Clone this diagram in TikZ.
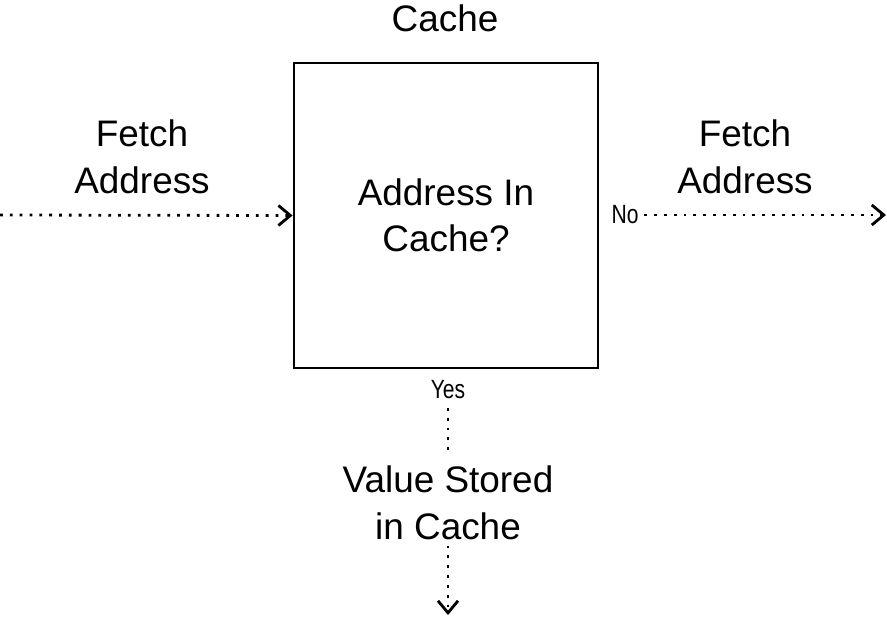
\documentclass[tikz,border=0pt]{standalone}
\usepackage{fontspec}
\setmainfont{Liberation Sans}
\usetikzlibrary{arrows.meta}

\begin{document}
\begin{tikzpicture}
\tikzstyle{cacheBox} =
[
	shape			= rectangle,		% shape
	draw			= black,			% colour of the border
	line width		= 0.8pt,			% thickness of the border
	minimum width	= 3.04cm,			% | size of the box
	minimum height	= 3.05cm,			% |
	align			= center,
	font			= \fontsize{10.5}{13}\selectfont
]
\tikzstyle{bigLabel} = [align = center, inner sep = 0pt, font = \fontsize{10.5}{13.3}\selectfont]
\tikzstyle{smallLabel} = [inner sep = 0pt, font = \fontsize{7.5}{9}\selectfont\addfontfeature{FakeStretch=0.8}]
\tikzstyle{flow} = [dotted, line width = 0.8pt, -{Straight Barb[length=1.2mm,width=2mm]}]
\useasboundingbox (0,0) rectangle (8.87,6.17);
\node (cache) [cacheBox] at (4.46,4.015) {Address In\\Cache?};
\node (title) [bigLabel] at (4.45,5.99) {Cache};
\node (inLabel) [bigLabel] at (1.42,4.60) {Fetch\\Address};
\node (outLabel) [bigLabel] at (7.45,4.60) {Fetch\\Address};
\node (no) [smallLabel] at (6.25,4.02) {No};
\node (yes) [smallLabel] at (4.48,2.27) {Yes};
\node (stored) [bigLabel] at (4.48,1.14) {Value Stored\\in Cache};
\coordinate (start) at (0,4.02);
\coordinate (endRight) at (8.86,4.02);
\coordinate (endDown) at (4.48,0.02);
\draw [flow] (start) -- (cache.west);
\draw [flow] (no.east) ++(0.05,0) -- (endRight);
\draw [dotted, line width = 0.8pt] (yes.south) ++(0,-0.08) -- (4.48,1.67);
\draw [flow] (stored.south) ++(0,-0.05) -- (endDown);
\end{tikzpicture}
\end{document}
